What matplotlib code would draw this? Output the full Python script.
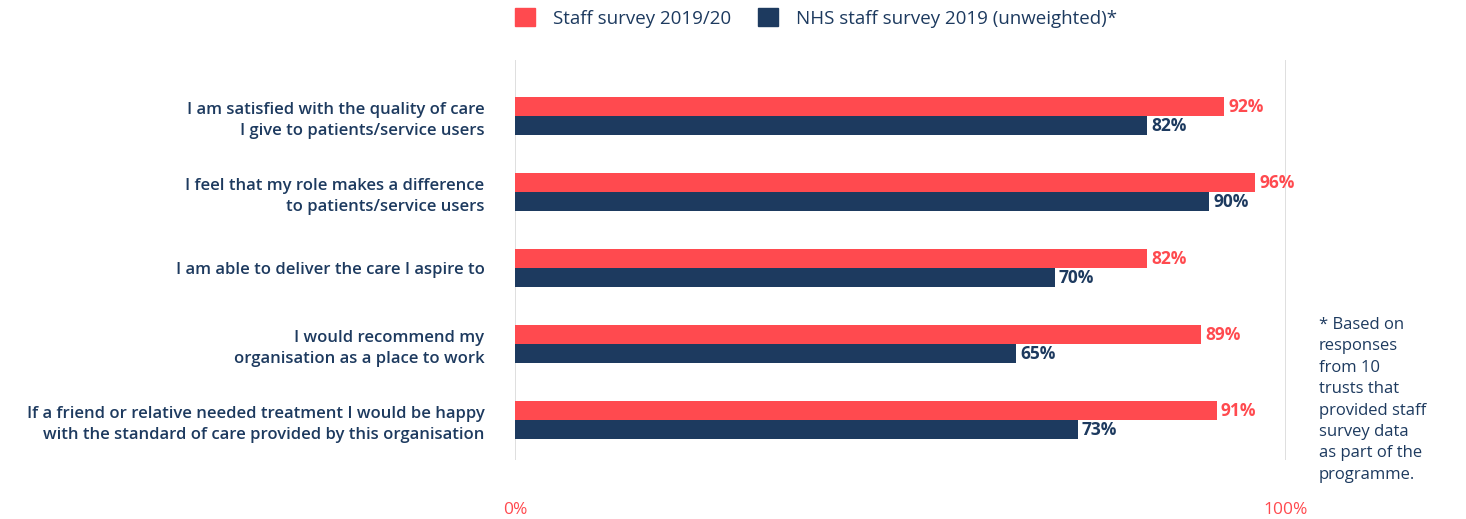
import numpy as np
import matplotlib
matplotlib.use("Agg")
import matplotlib.pyplot as plt
from matplotlib.patches import Patch

plt.rcParams["font.family"] = ["Open Sans", "DejaVu Sans"]

RED = "#ff4a4f"
NAVY = "#1d3a5f"
GRID = "#d9d9d9"

categories = [
    "I am satisfied with the quality of care\nI give to patients/service users",
    "I feel that my role makes a difference\nto patients/service users",
    "I am able to deliver the care I aspire to",
    "I would recommend my\norganisation as a place to work",
    "If a friend or relative needed treatment I would be happy\nwith the standard of care provided by this organisation",
]
staff_2019_20 = [92, 96, 82, 89, 91]
nhs_2019 = [82, 90, 70, 65, 73]
series_names = ["Staff survey 2019/20", "NHS staff survey 2019 (unweighted)*"]
x_ticks = [0, 100]
x_tick_labels = ["0%", "100%"]
footnote = ("* Based on\nresponses\nfrom 10\ntrusts that\nprovided staff\n"
            "survey data\nas part of the\nprogramme.")

W, H = 1466, 519
fig = plt.figure(figsize=(W / 100, H / 100), dpi=100)
ax = fig.add_axes([515 / W, 1 - 460 / H, 771 / W, 400 / H])

y = np.arange(len(categories))
h = 0.25
ax.barh(y - h / 2, staff_2019_20, height=h, color=RED, zorder=2)
ax.barh(y + h / 2, nhs_2019, height=h, color=NAVY, zorder=2)

for yi, v in zip(y, staff_2019_20):
    ax.annotate(f"{v}%", (v, yi - h / 2), xytext=(3, 0), textcoords="offset points",
                va="center", ha="left", color=RED, fontsize=12.5, fontweight="bold")
for yi, v in zip(y, nhs_2019):
    ax.annotate(f"{v}%", (v, yi + h / 2), xytext=(3, 0), textcoords="offset points",
                va="center", ha="left", color=NAVY, fontsize=12.5, fontweight="bold")

ax.set_xlim(0, 100)
ax.set_ylim(4.526, -0.737)
for xv in x_ticks:
    ax.axvline(xv, color=GRID, lw=1.2, zorder=1)

ax.set_xticks(x_ticks)
ax.set_xticklabels(x_tick_labels, color=RED, fontsize=12.5, fontweight="medium")
ax.tick_params(axis="x", length=0, pad=30)
ax.set_yticks(y)
ax.set_yticklabels(categories, color=NAVY, fontsize=12, fontweight="semibold",
                   linespacing=1.45)
ax.tick_params(axis="y", length=0, pad=22)
for s in ax.spines.values():
    s.set_visible(False)

handles = [Patch(color=RED), Patch(color=NAVY)]
fig.legend(handles, series_names, loc="center left",
           bbox_to_anchor=(515 / W, 1 - 18 / H), ncol=2, frameon=False,
           fontsize=13.5, handlelength=1.05, handleheight=1.05,
           handletextpad=1.0, columnspacing=1.4, borderpad=0, borderaxespad=0,
           labelcolor=NAVY)

fig.text(1319 / W, 1 - 317 / H, footnote, ha="left", va="top", color=NAVY,
         fontsize=12, linespacing=1.45)

fig.savefig("out.png", dpi=100)
